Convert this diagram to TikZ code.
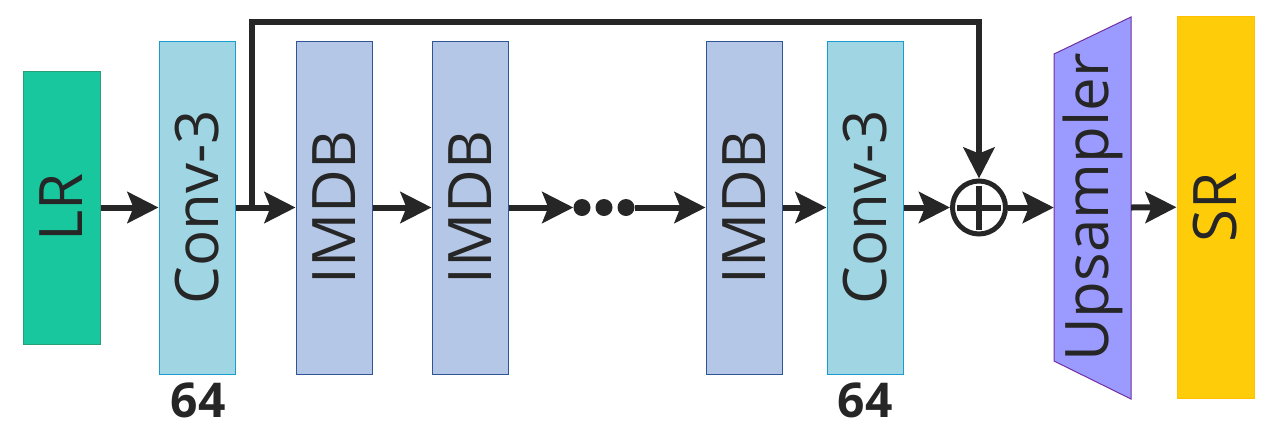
\documentclass[tikz,border=0pt]{standalone}
\usepackage{fontspec}
\setmainfont{Open Sans}
\usetikzlibrary{arrows.meta}
\definecolor{arrc}{HTML}{262626}
\definecolor{lrfill}{HTML}{18C79D}
\definecolor{lrdraw}{HTML}{2A9E76}
\definecolor{convfill}{HTML}{A0D6E4}
\definecolor{convdraw}{HTML}{1A9DCC}
\definecolor{imdbfill}{HTML}{B4C7E7}
\definecolor{imdbdraw}{HTML}{2F5597}
\definecolor{upfill}{HTML}{9B9BFF}
\definecolor{updraw}{HTML}{7030A0}
\definecolor{srfill}{HTML}{FFCC0A}
\definecolor{srdraw}{HTML}{FFC000}
\begin{document}
\begin{tikzpicture}[x=1pt,y=-1pt,
  blk/.style={draw, line width=1pt, minimum width=76pt, minimum height=333pt, inner sep=0pt,
    font=\fontsize{60}{60}\selectfont, text=arrc},
  conv/.style={blk, fill=convfill, draw=convdraw},
  imdb/.style={blk, fill=imdbfill, draw=imdbdraw},
  arr/.style={line width=6pt, draw=arrc, -{Stealth[length=31pt,width=31pt,inset=6pt]}},
  dotn/.style={circle, fill=arrc, minimum size=17pt, inner sep=0pt},
  lbl/.style={font=\fontsize{48}{48}\selectfont\bfseries, text=arrc},
]
\useasboundingbox (0,0) rectangle (1272,440);

\node[blk, fill=lrfill, draw=lrdraw, minimum width=77pt, minimum height=273pt] (lr) at (61.5,207.5) {\rotatebox{90}{LR}};
\node[conv] (c1) at (197,207.5) {\rotatebox{90}{Conv-3}};
\node[imdb] (m1) at (334,207.5) {\rotatebox{90}{IMDB}};
\node[imdb] (m2) at (470,207.5) {\rotatebox{90}{IMDB}};
\node[dotn] (d1) at (582,207.5) {};
\node[dotn] (d2) at (604,207.5) {};
\node[dotn] (d3) at (626,207.5) {};
\node[imdb] (m3) at (744,207.5) {\rotatebox{90}{IMDB}};
\node[conv] (c2) at (865,207.5) {\rotatebox{90}{Conv-3}};
\node[circle, draw=arrc, line width=5pt, minimum size=53pt, inner sep=0pt] (plus) at (979,207.5) {};
\draw[arrc, line width=6pt] ([xshift=-22pt]plus.center) -- ([xshift=22pt]plus.center)
  ([yshift=-22pt]plus.center) -- ([yshift=22pt]plus.center);
\node[minimum width=77pt, minimum height=307pt, inner sep=0pt] (up) at (1092.5,207.5) {};
\draw[fill=upfill, draw=updraw, line width=1pt] (1054,54) -- (1131,17) -- (1131,399) -- (1054,361) -- cycle;
\node[font=\fontsize{60}{60}\selectfont, text=arrc] at (up.center) {\rotatebox{90}{Upsampler}};
\node[blk, fill=srfill, draw=srdraw, minimum width=77pt, minimum height=382pt] (sr) at (1215.5,207) {\rotatebox{90}{SR}};

\node[lbl] (l1) at (198,400) {64};
\node[lbl] (l2) at (865,400) {64};

\draw[arr] (lr) -- (c1);
\draw[arr] (c1) -- (m1);
\draw[arr] (m1) -- (m2);
\draw[arr] (m2) -- (d1);
\draw[arr] (d3) -- (m3);
\draw[arr] (m3) -- (c2);
\draw[arr] (c2) -- (plus);
\draw[arr] (plus) -- (up);
\draw[arr] (up.east) -- (sr);
\coordinate (sk) at (252,207.5);
\coordinate (tp) at (979,22);
\draw[arr, line join=miter] (sk) -- (sk |- tp) -- (tp) -- (plus);
\end{tikzpicture}
\end{document}
